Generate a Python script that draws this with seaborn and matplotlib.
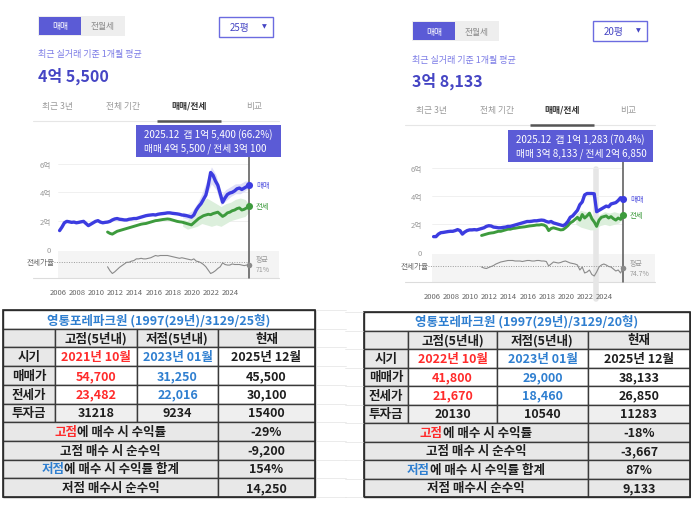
import numpy as np
import pandas as pd
import matplotlib
matplotlib.use("Agg")
import matplotlib.pyplot as plt
import seaborn as sns
from matplotlib.patches import Rectangle

# ---------------- data (prices in 억원, ratio in %) ----------------
quarters = pd.period_range("2006Q1", "2025Q4", freq="Q")
t_sale = np.asarray(quarters.year + (quarters.quarter * 3 - 1) / 12, dtype=float)
t_lease = t_sale[20:]          # 전세 data starts 2011

left_sale = [1.30, 1.55, 1.85, 1.95, 1.92, 1.88, 1.90, 1.85, 1.88, 1.92, 1.95, 1.80,
             1.65, 1.75, 1.85, 1.95, 2.00, 1.90, 1.85, 1.88, 1.90, 1.95, 2.05, 2.12,
             2.15, 2.10, 2.08, 2.05, 2.05, 2.10, 2.12, 2.15, 2.15, 2.20, 2.25, 2.30,
             2.35, 2.38, 2.40, 2.42, 2.40, 2.45, 2.48, 2.50, 2.52, 2.55, 2.55, 2.52,
             2.50, 2.48, 2.45, 2.40, 2.38, 2.35, 2.30, 2.25, 2.40, 2.75, 3.00, 3.20,
             3.50, 3.80, 4.50, 5.40, 5.20, 4.80, 4.50, 3.90, 3.30, 3.60, 3.85, 3.95,
             4.00, 4.10, 4.25, 4.30, 4.20, 4.30, 4.40, 4.55]
left_lease = [1.20, 1.10, 1.05, 1.15, 1.25, 1.30, 1.35, 1.40, 1.45, 1.50, 1.55, 1.60,
              1.65, 1.70, 1.75, 1.78, 1.80, 1.85, 1.90, 1.95, 2.00, 2.02, 2.05, 2.08,
              2.10, 2.12, 2.10, 2.05, 2.00, 1.95, 1.92, 1.90, 1.85, 1.80, 1.75, 1.70,
              1.85, 2.00, 2.15, 2.25, 2.35, 2.40, 2.45, 2.42, 2.50, 2.55, 2.60, 2.45,
              2.30, 2.40, 2.55, 2.60, 2.70, 2.75, 2.85, 2.90, 2.75, 2.80, 2.90, 3.01]
left_ratio = [63, 56, 51, 54, 58, 62, 65, 68, 71, 71, 73, 74, 77, 77, 78, 77,
              77, 78, 79, 81, 83, 82, 83, 83, 83, 83, 82, 81, 80, 79, 78, 79,
              78, 77, 76, 75, 77, 73, 72, 70, 67, 63, 57, 51, 53, 56, 60, 63,
              70, 67, 66, 66, 68, 67, 67, 67, 66, 65, 66, 66.2]
left_avg = 71

right_sale = [1.12, 1.12, 1.30, 1.40, 1.42, 1.45, 1.48, 1.50, 1.50, 1.55, 1.62, 1.55,
              1.30, 1.45, 1.55, 1.60, 1.60, 1.62, 1.60, 1.65, 1.70, 1.75, 1.85, 1.90,
              1.88, 1.80, 1.78, 1.75, 1.75, 1.78, 1.80, 1.85, 1.85, 1.90, 1.95, 2.00,
              2.05, 2.10, 2.15, 2.20, 2.20, 2.22, 2.25, 2.25, 2.28, 2.30, 2.28, 2.20,
              2.15, 2.20, 2.10, 2.05, 2.00, 1.95, 1.90, 2.00, 2.20, 2.50, 2.60, 2.80,
              3.00, 3.40, 3.60, 4.10, 4.20, 4.20, 4.20, 4.18, 2.90, 3.00, 3.10, 3.20,
              3.30, 3.25, 3.45, 3.50, 3.55, 3.70, 3.90, 3.8133]
right_lease = [1.20, 1.25, 1.30, 1.35, 1.38, 1.40, 1.45, 1.50, 1.50, 1.55, 1.60, 1.65,
               1.65, 1.70, 1.72, 1.75, 1.78, 1.80, 1.82, 1.85, 1.88, 1.90, 1.92, 1.95,
               1.95, 1.98, 1.95, 1.85, 1.55, 1.70, 1.75, 1.70, 1.65, 1.60, 1.62, 1.75,
               1.90, 2.10, 2.20, 2.35, 2.50, 2.30, 2.70, 2.45, 2.60, 2.80, 2.40, 2.17,
               1.85, 2.30, 2.50, 2.55, 2.60, 2.45, 2.55, 2.40, 2.30, 2.45, 2.35, 2.685]
right_ratio = [72, 70, 69, 71, 73, 75, 78, 80, 82, 83, 84, 85, 85, 85, 84, 84,
               84, 83, 84, 85, 85, 84, 84, 85, 85, 84, 84, 83, 74, 78, 82, 81,
               80, 81, 83, 84, 82, 80, 79, 78, 76, 66, 72, 60, 62, 66, 57, 54,
               62, 72, 76, 78, 76, 73, 72, 68, 64, 66, 60, 70.4]
right_avg = 74.7

# range shading (min / max of monthly trades)
left_band_t = [2019.0, 2019.5, 2020.0, 2020.5, 2021.0, 2021.5, 2022.0, 2022.5,
               2023.0, 2023.5, 2024.0, 2024.5, 2025.0, 2025.5, 2025.917]
left_lease_lo = [1.6, 1.4, 1.5, 1.6, 1.8, 1.7, 1.6, 1.7, 1.6, 1.8, 2.0, 2.1, 2.2, 2.3, 2.6]
left_lease_hi = [2.1, 2.0, 2.5, 3.0, 3.3, 3.6, 3.4, 3.2, 3.0, 3.2, 3.3, 3.5, 3.6, 3.5, 3.2]
left_sale_lo = [2.2, 2.1, 2.2, 2.7, 3.2, 3.8, 4.6, 4.2, 3.1, 3.4, 3.7, 3.9, 3.9, 4.1, 4.3]
left_sale_hi = [2.6, 2.5, 2.7, 3.2, 3.9, 4.8, 5.8, 5.2, 3.8, 4.2, 4.4, 4.6, 4.6, 4.8, 4.8]
right_band_t = [2021.0, 2021.5, 2022.0, 2022.5, 2023.0, 2023.5, 2024.0, 2024.5, 2025.0, 2025.5, 2025.917]
right_lease_lo = [2.0, 1.8, 1.7, 1.6, 1.6, 1.9, 2.0, 1.9, 2.0, 2.1, 2.4]
right_lease_hi = [2.7, 3.0, 2.9, 2.8, 2.4, 2.7, 2.9, 2.8, 2.9, 2.8, 2.8]

x_years = list(range(2006, 2025, 2))
y_ticks = [0, 2, 4, 6]
y_tick_labels = ["0", "2억", "4억", "6억"]
tabs = ["최근 3년", "전체 기간", "매매/전세", "비교"]
last_month = "2025.12"

table_header = ["고점(5년내)", "저점(5년내)", "현재"]
row_labels = ["시기", "매매가", "전세가", "투자금"]
left_title = "영통포레파크원 (1997(29년)/3129/25형)"
left_high = ["2021년 10월", "54,700", "23,482", "31218"]
left_low = ["2023년 01월", "31,250", "22,016", "9234"]
left_now = ["2025년 12월", "45,500", "30,100", "15400"]
left_summary = ["-29%", "-9,200", "154%", "14,250"]
right_title = "영통포레파크원 (1997(29년)/3129/20형)"
right_high = ["2022년 10월", "41,800", "21,670", "20130"]
right_low = ["2023년 01월", "29,000", "18,460", "10540"]
right_now = ["2025년 12월", "38,133", "26,850", "11283"]
right_summary = ["-18%", "-3,667", "87%", "9,133"]

RED, BLUE_T, DARK = "#ff2b2b", "#2f7fd0", "#1e1e1e"
summary_labels = [[("고점", RED), ("에 매수 시 수익률", DARK)],
                  [("고점 매수 시 순수익", DARK)],
                  [("저점", BLUE_T), ("에 매수 시 수익률 합계", DARK)],
                  [("저점 매수시 순수익", DARK)]]

# ---------------- style ----------------
sns.set_theme(style="white")
plt.rcParams['font.family'] = ['Noto Sans CJK KR', 'DejaVu Sans']

ACC = "#5b5bd6"
SALE_C = "#3c3ce0"
LEASE_C = "#3d9b3d"
GREY_T = "#9a9a9a"

W, H = 691, 510
fig = plt.figure(figsize=(W / 100, H / 100), dpi=100)
fig.patch.set_facecolor("white")


def px_axes(x0, y0, x1, y1, z=1):
    a = fig.add_axes([x0 / W, 1 - y1 / H, (x1 - x0) / W, (y1 - y0) / H])
    a.set_zorder(z)
    a.patch.set_alpha(0)
    return a


bg = px_axes(0, 0, W, H, z=0)
bg.set_xlim(0, W)
bg.set_ylim(H, 0)
bg.axis("off")
fr = px_axes(0, 0, W, H, z=10)
fr.set_xlim(0, W)
fr.set_ylim(H, 0)
fr.axis("off")


def fmt_eok(v):
    man = int(round(v * 10000))
    eok, rest = divmod(man, 10000)
    return f"{eok}억 {rest:,}" if rest else f"{eok}억"


def draw_panel(L, sale, lease, ratio, avg, size, bands):
    # header
    bx, by = L["btn"]
    bg.add_patch(Rectangle((bx, by), 87, 20, fc="#eeeeee", ec="none"))
    bg.add_patch(Rectangle((bx + 1, by + 1), 42, 18, fc=ACC, ec="none"))
    bg.text(bx + 22, by + 10, "매매", color="white", fontsize=6.3, ha="center", va="center")
    bg.text(bx + 65, by + 10, "전월세", color="#8a8a8a", fontsize=6.3, ha="center", va="center")
    dx, dy = L["drop"]
    bg.add_patch(Rectangle((dx, dy), 54, 20, fc="white", ec="#6b6be0", lw=1.0))
    bg.text(dx + 21, dy + 10, size, color="#4545c4", fontsize=7, ha="center", va="center")
    bg.text(dx + 45, dy + 9, "▼", color="#4545c4", fontsize=4.5, ha="center", va="center",
            family=["DejaVu Sans"])
    bg.text(bx, by + 38, "최근 실거래 기준 1개월 평균", color="#7b7be6", fontsize=6.5,
            ha="left", va="center")
    bg.text(bx, by + 59, fmt_eok(sale[-1]), color="#4545c4", fontsize=11.5,
            fontweight="bold", ha="left", va="center")
    for cx, name in zip(L["tabs"], tabs):
        sel = name == "매매/전세"
        bg.text(cx, L["tab_y"], name, fontsize=6.3, ha="center", va="center",
                color="#333333" if sel else GREY_T, fontweight="bold" if sel else "normal")
    lx0, lx1 = L["band_x"]
    bg.plot([lx0, lx1], [L["tab_y"] + 16] * 2, color="#e6e6e6", lw=0.8)
    sx = L["tabs"][2]
    bg.plot([sx - 32, sx + 32], [L["tab_y"] + 15.5] * 2, color="#555555", lw=1.8,
            solid_capstyle="butt")

    # ratio band background
    ry0, ry1 = L["ratio_y"]
    bg.add_patch(Rectangle((L["x0"], ry0), lx1 - L["x0"], ry1 - ry0, fc="#f4f4f4", ec="none"))
    bg.plot([lx0, lx1], [ry1, ry1], color="#dcdcdc", lw=0.8)

    # price axes
    t_end = t_sale[-1]
    axp = px_axes(L["x0"], L["ytop"], L["x1"], L["yzero"])
    ymax = (L["yzero"] - L["ytop"]) / L["ppe"]
    axp.set_xlim(2006.0, t_end)
    axp.set_ylim(0, ymax)
    for s in axp.spines.values():
        s.set_visible(False)
    axp.set_xticks([])
    axp.set_yticks(y_ticks)
    axp.set_yticklabels(y_tick_labels)
    axp.tick_params(axis="y", length=0, pad=L["ypad"], labelsize=5.5, labelcolor=GREY_T)
    axp.grid(axis="y", color="#eeeeee", lw=0.6)
    axp.grid(axis="x", visible=False)

    if "hover" in L:
        h = L["yzero"] - L["ytop"]
        axp.axvline(L["hover"], ymin=(L["yzero"] - 300) / h, ymax=(L["yzero"] - 170) / h,
                    color="#e6e6e6", lw=4, clip_on=False, zorder=0)
    for bt, lo, hi, c in bands:
        axp.fill_between(bt, lo, hi, color=c, lw=0, zorder=1)

    sns.lineplot(x=t_sale, y=sale, ax=axp, color=SALE_C, lw=2.4, zorder=4)
    sns.lineplot(x=t_lease, y=lease, ax=axp, color=LEASE_C, lw=2.1, zorder=3)
    for ln in axp.lines:
        ln.set_clip_on(False)
    h = L["yzero"] - L["ytop"]
    axp.axvline(t_end, ymin=(L["yzero"] - ry1) / h, ymax=1.0, color="#555555", lw=1.1,
                clip_on=False, zorder=6)
    axp.scatter([t_end], [sale[-1]], s=26, color=SALE_C, zorder=7, clip_on=False, lw=0)
    axp.scatter([t_end], [lease[-1]], s=26, color=LEASE_C, zorder=7, clip_on=False, lw=0)
    axp.annotate("매매", (t_end, sale[-1]), xytext=(5, 0), textcoords="offset points",
                 fontsize=5.3, color="#5a5ae0", va="center", ha="left")
    axp.annotate("전세", (t_end, lease[-1]), xytext=(5, 0), textcoords="offset points",
                 fontsize=5.3, color=LEASE_C, va="center", ha="left")

    # ratio axes
    axr = px_axes(L["x0"], ry0, L["x1"], ry1)
    axr.set_xlim(2006.0, t_end)
    axr.set_ylim(*L["ratio_lim"])
    for s in axr.spines.values():
        s.set_visible(False)
    axr.set_yticks([])
    axr.set_xticks(x_years)
    axr.set_xticklabels([str(y) for y in x_years])
    axr.tick_params(axis="x", length=0, pad=L["xpad"], labelsize=5.5, labelcolor="#666666")
    axr.grid(False)
    axr.axhline(avg, xmin=-0.02, color="#9a9a9a", ls=(0, (1, 1.5)), lw=0.7, clip_on=False)
    sns.lineplot(x=t_lease, y=ratio, ax=axr, color="#8a8a8a", lw=0.8)
    axr.scatter([t_end], [ratio[-1]], s=16, color="#8a8a8a", zorder=5, clip_on=False, lw=0)
    axr.annotate("전세가율", (0, avg), xycoords=("axes fraction", "data"), xytext=(-2.5, 0),
                 textcoords="offset points", fontsize=5.5, color="#666666",
                 ha="right", va="center")
    axr.annotate(f"평균\n{avg:g}%", (t_end, avg), xytext=(5, -1.5), textcoords="offset points",
                 fontsize=5.0, color=GREY_T, ha="left", va="center", linespacing=1.3)

    # tooltip
    tx, ty = L["tip"]
    fr.add_patch(Rectangle((tx, ty), 145, 32, fc=ACC, ec="none"))
    gap = sale[-1] - lease[-1]
    fr.text(tx + 8, ty + 9, f"{last_month}  갭 {fmt_eok(gap)} ({lease[-1] / sale[-1] * 100:.1f}%)",
            color="white", fontsize=7.0, ha="left", va="center")
    fr.text(tx + 8, ty + 23, f"매매 {fmt_eok(sale[-1])} / 전세 {fmt_eok(lease[-1])}",
            color="white", fontsize=7.0, ha="left", va="center")


left_layout = dict(btn=(38, 17), drop=(219, 18), tabs=[57, 123, 189, 254], tab_y=106,
                   band_x=(33, 279), x0=58, x1=249, ytop=158, yzero=250, ppe=14.17,
                   ratio_y=(252, 279), ratio_lim=(43, 91), ypad=5, xpad=7, tip=(136, 126))
right_layout = dict(btn=(412, 22), drop=(593, 22), tabs=[431, 497, 562, 628], tab_y=110,
                    band_x=(405, 655), x0=432, x1=623, ytop=163, yzero=253.3, ppe=14.0,
                    ratio_y=(255, 283), ratio_lim=(42, 98), ypad=7, xpad=7, tip=(508, 131),
                    hover=2023.1)

draw_panel(left_layout, left_sale, left_lease, left_ratio, left_avg, "25평",
           [(left_band_t, left_lease_lo, left_lease_hi, "#dcefdc"),
            (left_band_t, left_sale_lo, left_sale_hi, "#dedef7")])
draw_panel(right_layout, right_sale, right_lease, right_ratio, right_avg, "20평",
           [(right_band_t, right_lease_lo, right_lease_hi, "#dcefdc")])

# ---------------- tables ----------------
renderer = fig.canvas.get_renderer()


def multi_color(xc, yc, parts, **kw):
    texts = [bg.text(0, yc, s, color=c, ha="left", va="center", **kw) for s, c in parts]
    widths = [t.get_window_extent(renderer).width for t in texts]
    x = xc - sum(widths) / 2
    for t, w in zip(texts, widths):
        t.set_x(x)
        x += w


def draw_table(xe, y0, y1, title, high, low, now, summary, grid_x):
    n = 10
    rh = (y1 - y0) / n
    ye = [y0 + i * rh for i in range(n + 1)]
    # faint spreadsheet grid beside the table
    for y in ye:
        bg.plot(grid_x, [y, y], color="#e3e3e3", lw=0.5)
    fill_g = "#e8e8e8"
    ec = "#3a3a3a"
    fs = 9.0
    # title
    bg.add_patch(Rectangle((xe[0], ye[0]), xe[-1] - xe[0], rh, fc="white", ec=ec, lw=1.0))
    bg.text((xe[0] + xe[-1]) / 2, ye[0] + rh / 2, title, color=BLUE_T, fontsize=fs,
            fontweight="bold", ha="center", va="center")
    # header
    for j in range(4):
        bg.add_patch(Rectangle((xe[j], ye[1]), xe[j + 1] - xe[j], rh, fc=fill_g, ec=ec, lw=1.0))
        if j:
            bg.text((xe[j] + xe[j + 1]) / 2, ye[1] + rh / 2, table_header[j - 1],
                    color=DARK, fontsize=fs, fontweight="bold", ha="center", va="center")
    # body rows
    for i, lab in enumerate(row_labels):
        yy = ye[2 + i]
        bg.add_patch(Rectangle((xe[0], yy), xe[1] - xe[0], rh, fc=fill_g, ec=ec, lw=1.0))
        bg.text((xe[0] + xe[1]) / 2, yy + rh / 2, lab, color=DARK, fontsize=fs,
                fontweight="bold", ha="center", va="center")
        vals = [high[i], low[i], now[i]]
        cols = [RED, BLUE_T, DARK] if i < 3 else [DARK, DARK, DARK]
        fc = "white" if i < 3 else "#efefef"
        for j in range(3):
            bg.add_patch(Rectangle((xe[j + 1], yy), xe[j + 2] - xe[j + 1], rh, fc=fc,
                                   ec=ec, lw=1.0))
            bg.text((xe[j + 1] + xe[j + 2]) / 2, yy + rh / 2, vals[j], color=cols[j],
                    fontsize=fs, fontweight="bold", ha="center", va="center")
    # summary rows
    for i, (parts, val) in enumerate(zip(summary_labels, summary)):
        yy = ye[6 + i]
        bg.add_patch(Rectangle((xe[0], yy), xe[3] - xe[0], rh, fc=fill_g, ec=ec, lw=1.0))
        bg.add_patch(Rectangle((xe[3], yy), xe[4] - xe[3], rh, fc=fill_g, ec=ec, lw=1.0))
        multi_color((xe[0] + xe[3]) / 2, yy + rh / 2, parts, fontsize=fs, fontweight="bold")
        bg.text((xe[3] + xe[4]) / 2, yy + rh / 2, val, color=DARK, fontsize=fs,
                fontweight="bold", ha="center", va="center")
    bg.add_patch(Rectangle((xe[0], ye[0]), xe[-1] - xe[0], ye[-1] - ye[0], fc="none",
                           ec="#2a2a2a", lw=1.2))


draw_table([3, 55, 137, 218, 315], 311, 498, left_title, left_high, left_low, left_now,
           left_summary, [316, 346])
draw_table([364, 408, 497, 588, 690], 313, 498, right_title, right_high, right_low, right_now,
           right_summary, [345, 363])

fig.savefig("out.png", dpi=100, facecolor="white")
